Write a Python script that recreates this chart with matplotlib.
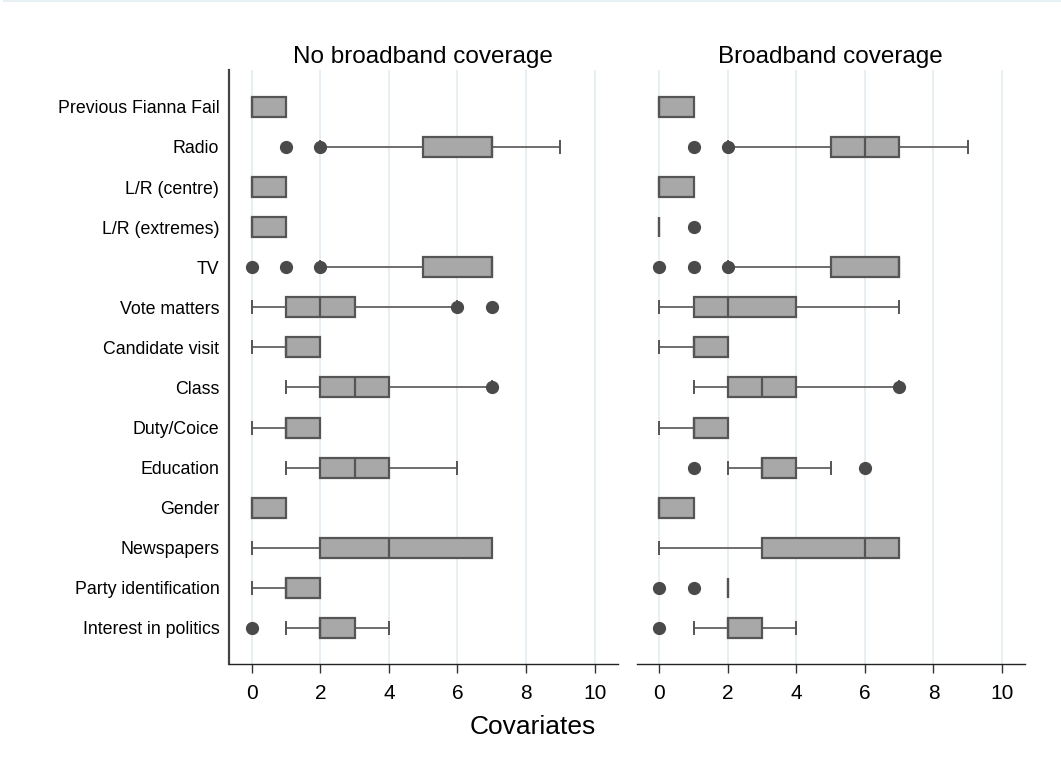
import matplotlib.pyplot as plt
from matplotlib.lines import Line2D

plt.rcParams['font.family'] = ['Liberation Sans', 'DejaVu Sans']

# Covariate names, top to bottom
covariates = ["Previous Fianna Fail", "Radio", "L/R (centre)", "L/R (extremes)", "TV",
              "Vote matters", "Candidate visit", "Class", "Duty/Coice", "Education",
              "Gender", "Newspapers", "Party identification", "Interest in politics"]

panels = ["No broadband coverage", "Broadband coverage"]

# Box summaries: whisker low, q1, median, q3, whisker high, outliers
# No broadband coverage
nb_whislo = [0, 2, 0, 0, 2, 0, 0, 1, 0, 1, 0, 0, 0, 1]
nb_q1     = [0, 5, 0, 0, 5, 1, 1, 2, 1, 2, 0, 2, 1, 2]
nb_med    = [0, 7, 0, 0, 7, 2, 1, 3, 1, 3, 0, 4, 1, 2]
nb_q3     = [1, 7, 1, 1, 7, 3, 2, 4, 2, 4, 1, 7, 2, 3]
nb_whishi = [1, 9, 1, 1, 7, 6, 2, 7, 2, 6, 1, 7, 2, 4]
nb_fliers = [[], [1, 2], [], [], [0, 1, 2], [6, 7], [], [7], [], [], [], [], [], [0]]

# Broadband coverage
bb_whislo = [0, 2, 0, 0, 2, 0, 0, 1, 0, 2, 0, 0, 2, 1]
bb_q1     = [0, 5, 0, 0, 5, 1, 1, 2, 1, 3, 0, 3, 2, 2]
bb_med    = [0, 6, 0, 0, 7, 2, 1, 3, 1, 3, 0, 6, 2, 2]
bb_q3     = [1, 7, 1, 0, 7, 4, 2, 4, 2, 4, 1, 7, 2, 3]
bb_whishi = [1, 9, 1, 0, 7, 7, 2, 7, 2, 5, 1, 7, 2, 4]
bb_fliers = [[], [1, 2], [], [1], [0, 1, 2], [], [], [7], [], [1, 6], [], [], [0, 1], [0]]

xticks = [0, 2, 4, 6, 8, 10]

box_face = '#a8a8a8'
edge = '#555555'
dot = '#4a4a4a'
grid_col = '#e8eff2'


def make_stats(wlo, q1, med, q3, whi, fl):
    return [dict(whislo=a, q1=b, med=c, q3=d, whishi=e, fliers=f)
            for a, b, c, d, e, f in zip(wlo, q1, med, q3, whi, fl)]


fig = plt.figure(figsize=(10.61, 7.67), dpi=100)
ax1 = fig.add_axes([229 / 1061, 0.1343, 388.7 / 1061, 0.7744])
ax2 = fig.add_axes([636.7 / 1061, 0.1343, 388.3 / 1061, 0.7744])

data = [make_stats(nb_whislo, nb_q1, nb_med, nb_q3, nb_whishi, nb_fliers),
        make_stats(bb_whislo, bb_q1, bb_med, bb_q3, bb_whishi, bb_fliers)]

positions = list(range(len(covariates)))

for ax, stats, title in zip([ax1, ax2], data, panels):
    for x in xticks:
        ax.axvline(x, color=grid_col, lw=1.4, zorder=0)
    ax.bxp(stats, positions=positions, vert=False, widths=0.5, capwidths=0.3,
           patch_artist=True,
           boxprops=dict(facecolor=box_face, edgecolor=edge, linewidth=1.6),
           medianprops=dict(color=edge, linewidth=1.6),
           whiskerprops=dict(color=edge, linewidth=1.2),
           capprops=dict(color=edge, linewidth=1.4),
           flierprops=dict(marker='o', markerfacecolor=dot, markeredgecolor=dot,
                           markersize=8.5))
    ax.set_xlim(-0.66, 10.67)
    ax.set_ylim(13.9, -0.92)
    ax.set_xticks(xticks)
    ax.set_xticklabels([str(x) for x in xticks], fontsize=15)
    ax.tick_params(axis='x', length=6.5, width=1, color='#333333', pad=8)
    ax.tick_params(axis='y', length=0)
    ax.set_title(title, fontsize=17.5, pad=5)
    ax.spines['top'].set_visible(False)
    ax.spines['right'].set_visible(False)
    ax.spines['bottom'].set_color('#222222')
    ax.spines['bottom'].set_linewidth(1.0)

ax1.set_yticks(positions)
ax1.set_yticklabels(covariates, fontsize=12.8)
ax1.tick_params(axis='y', pad=7)
ax1.spines['left'].set_color('#444444')
ax1.spines['left'].set_linewidth(1.6)

ax2.set_yticks([])
ax2.spines['left'].set_visible(False)

fig.text(533 / 1061, 1 - 727 / 767, "Covariates", fontsize=19, ha='center', va='center')

# faint outer border line at the top
fig.add_artist(Line2D([4 / 1061, 1], [0.999, 0.999], color='#e6eff1', lw=1.5,
                      transform=fig.transFigure))

fig.savefig('out.png', dpi=100)
